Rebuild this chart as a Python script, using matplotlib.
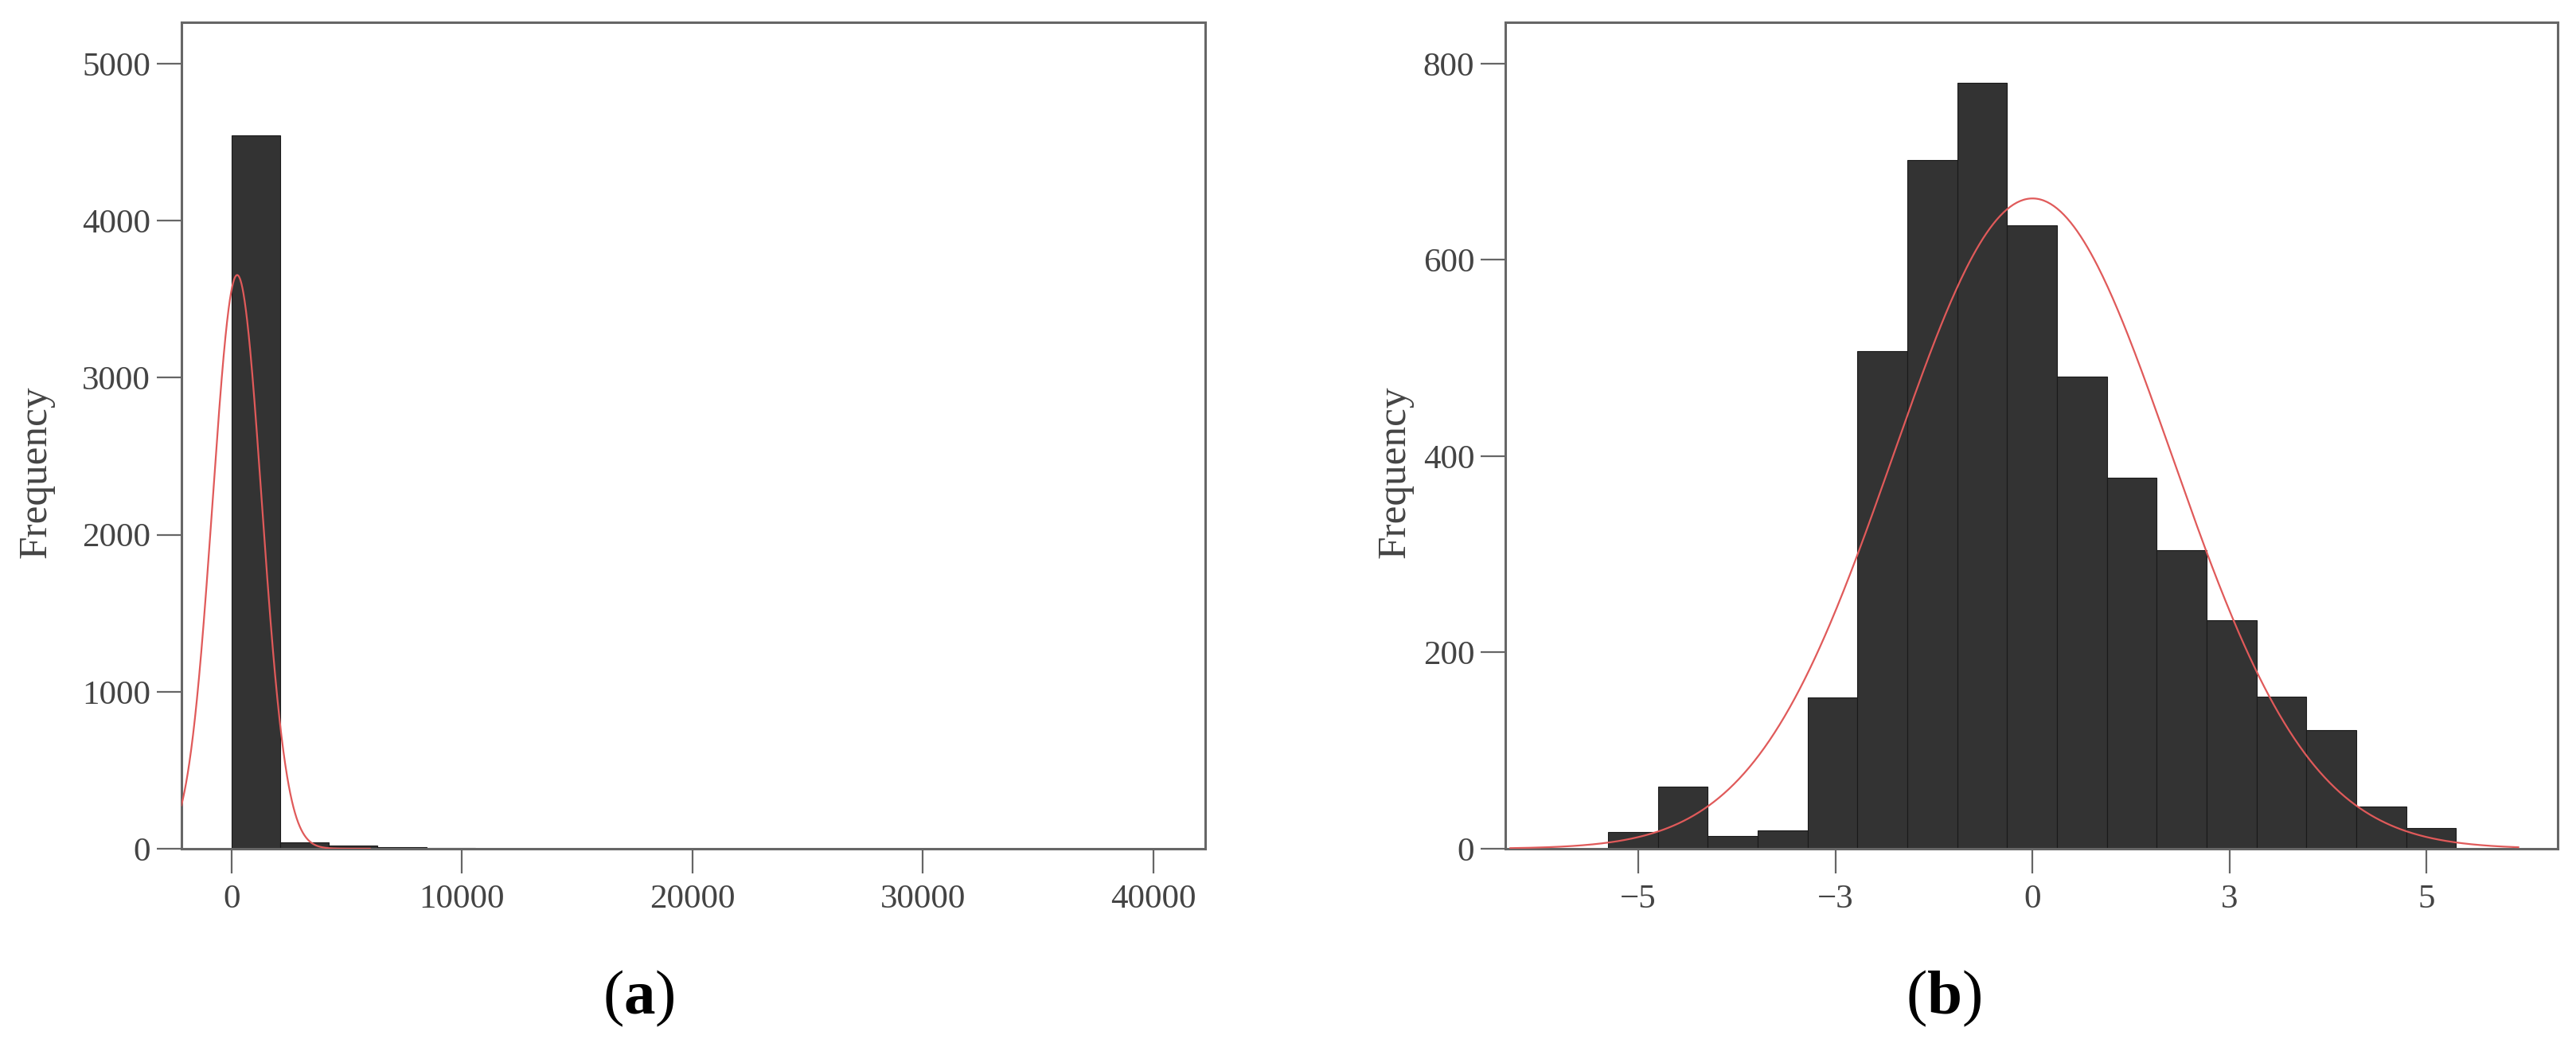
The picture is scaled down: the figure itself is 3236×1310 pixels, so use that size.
import numpy as np
import matplotlib
matplotlib.use('Agg')
from matplotlib import pyplot as plt

plt.rcParams['font.family'] = ['Liberation Serif', 'DejaVu Serif']
plt.rcParams['mathtext.fontset'] = 'custom'
plt.rcParams['mathtext.rm'] = 'Liberation Serif'
plt.rcParams['mathtext.bf'] = 'Liberation Serif:bold'

# (a) raw values
counts_a = [4544, 39, 19, 10, 3, 2, 1, 1]
bin_start_a = 0.0
bin_width_a = 2112.0
mu_a, sigma_a = 240.0, 1065.0
xticks_a = [0, 10000, 20000, 30000, 40000]
xticklabels_a = ['0', '10000', '20000', '30000', '40000']
yticks_a = [0, 1000, 2000, 3000, 4000, 5000]

# (b) transformed values
counts_b = [17, 63, 13, 19, 154, 507, 702, 780, 635, 481, 378, 304, 233, 155, 121, 43, 21]
bin_start_b = -4.307
bin_width_b = 0.5062
mu_b, sigma_b = 0.0, 1.41
xticks_b = [-4, -2, 0, 2, 4]
xticklabels_b = ['\u22125', '\u22123', '0', '3', '5']
yticks_b = [0, 200, 400, 600, 800]

BAR = '#333333'
RED = '#e05a5a'
TXT = '#444444'
SPINE = '#666666'


def draw(ax, counts, start, width, mu, sigma, xlim, ylim, xrange_curve):
    counts = np.array(counts, dtype=float)
    edges = start + width * np.arange(len(counts))
    ax.bar(edges, counts, width=width, align='edge', color=BAR,
           edgecolor='#1a1a1a', linewidth=0.8, zorder=2)
    n = counts.sum()
    x = np.linspace(xrange_curve[0], xrange_curve[1], 600)
    y = n * width / (sigma * np.sqrt(2 * np.pi)) * np.exp(-(x - mu) ** 2 / (2 * sigma ** 2))
    ax.plot(x, y, color=RED, lw=1.6, zorder=3)
    ax.set_xlim(*xlim)
    ax.set_ylim(*ylim)
    for s in ax.spines.values():
        s.set_color(SPINE)
        s.set_linewidth(2.2)
    ax.tick_params(axis='both', direction='out', length=22, width=1.6,
                   color=SPINE, labelsize=31, labelcolor=TXT)
    ax.tick_params(axis='x', pad=10)
    ax.tick_params(axis='y', pad=6)


fig = plt.figure(figsize=(32.37, 13.10), dpi=100)
ax1 = fig.add_axes([0.0704, 0.1863, 0.3973, 0.7923])
ax2 = fig.add_axes([0.5842, 0.1863, 0.4084, 0.7923])

draw(ax1, counts_a, bin_start_a, bin_width_a, mu_a, sigma_a,
     (-2180, 42245), (0, 5264), (-2180, 6000))
ax1.set_xticks(xticks_a)
ax1.set_xticklabels(xticklabels_a)
ax1.set_yticks(yticks_a)

draw(ax2, counts_b, bin_start_b, bin_width_b, mu_b, sigma_b,
     (-5.35, 5.33), (0, 842), (-5.3, 4.93))
ax2.set_xticks(xticks_b)
ax2.set_xticklabels(xticklabels_b)
ax2.set_yticks(yticks_b)

ax1.text(-0.1423, 0.4557, 'Frequency', rotation=90, ha='center', va='center',
         fontsize=37, color=TXT, transform=ax1.transAxes)
ax2.text(-0.105, 0.4557, 'Frequency', rotation=90, ha='center', va='center',
         fontsize=37, color=TXT, transform=ax2.transAxes)

fig.text(0.2478, 0.0282, r'($\mathbf{a}$)', ha='center', va='baseline', fontsize=57, color='black')
fig.text(0.7544, 0.0282, r'($\mathbf{b}$)', ha='center', va='baseline', fontsize=57, color='black')

fig.savefig('out.png', dpi=100, facecolor='white')
